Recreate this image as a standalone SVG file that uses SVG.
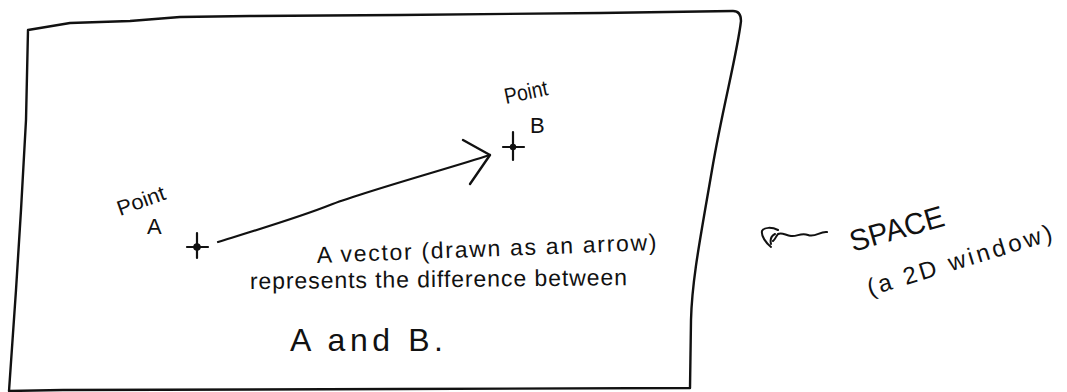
<svg xmlns="http://www.w3.org/2000/svg" width="1067" height="392" viewBox="0 0 1067 392">
<style>
.ink{fill:none;stroke:#111;stroke-linecap:round;stroke-linejoin:round}
.hand{font-family:"Liberation Sans","DejaVu Sans",sans-serif;fill:#111}
</style>
<rect width="1067" height="392" fill="#fff"/>
<g id="space-window">
<path class="ink" stroke-width="2.4" d="M 28 30 L 70 23 L 130 21 L 180 17 L 250 16 L 400 15 L 600 13 L 733 11 Q 741 11 741 21 C 737 55 722 110 712 170 C 700 240 692 280 691 320 L 690 388 L 400 389 L 63 390 L 9 391 L 16 290 L 21 210 L 26 120 Z"/>
</g>
<g id="connectors">
<g id="vector-a-b">
<path class="ink" stroke-width="2.2" d="M 218 242 C 260 229 300 217 330 205 S 450 168 490 155"/>
<path class="ink" stroke-width="2.4" d="M 463 140 L 490 155 L 470 184"/>
</g>
</g>
<g id="point-a">
<path class="ink" stroke-width="2.2" d="M 187 247 L 208 247 M 197 233 L 197 258"/>
<circle cx="197" cy="247" r="3.8" fill="#111"/>
<text class="hand" x="120" y="216" font-size="21" textLength="50" lengthAdjust="spacingAndGlyphs" transform="rotate(-20 120 216)">Point</text>
<text class="hand" x="147" y="234" font-size="22">A</text>
</g>
<g id="point-b">
<path class="ink" stroke-width="2.2" d="M 503 147 L 524 147 M 513 132 L 513 160"/>
<circle cx="513" cy="147" r="3.2" fill="#111"/>
<text class="hand" x="506" y="104" font-size="22" textLength="44" lengthAdjust="spacingAndGlyphs" transform="rotate(-12 506 104)">Point</text>
<text class="hand" x="530" y="133" font-size="22">B</text>
</g>
<g id="caption">
<text class="hand" x="317" y="263" font-size="23" textLength="340" lengthAdjust="spacing" transform="rotate(-2.2 317 263)">A vector (drawn as an arrow)</text>
<text class="hand" x="250" y="289" font-size="23" textLength="377" lengthAdjust="spacing" transform="rotate(-0.6 250 289)">represents the difference between</text>
<text class="hand" x="290" y="351" font-size="32" textLength="153" lengthAdjust="spacing">A and B.</text>
</g>
<g id="space-label">
<path class="ink" stroke-width="2" d="M 827 232 C 820 231 815 238 808 235 C 801 232 797 237 791 236 C 785 235 782 232 778 234 C 776 236 775 240 773 241 M 778 230 C 772 227 764 227 762 231 C 761 236 766 243 771 247 M 775 234 C 771 236 770 240 771 244"/>
<text class="hand" x="853" y="252" font-size="30" textLength="97" lengthAdjust="spacingAndGlyphs" transform="rotate(-16 853 252)">SPACE</text>
<text class="hand" x="870" y="296" font-size="24" textLength="192" lengthAdjust="spacing" transform="rotate(-17 870 296)">(a 2D window)</text>
</g>
</svg>
